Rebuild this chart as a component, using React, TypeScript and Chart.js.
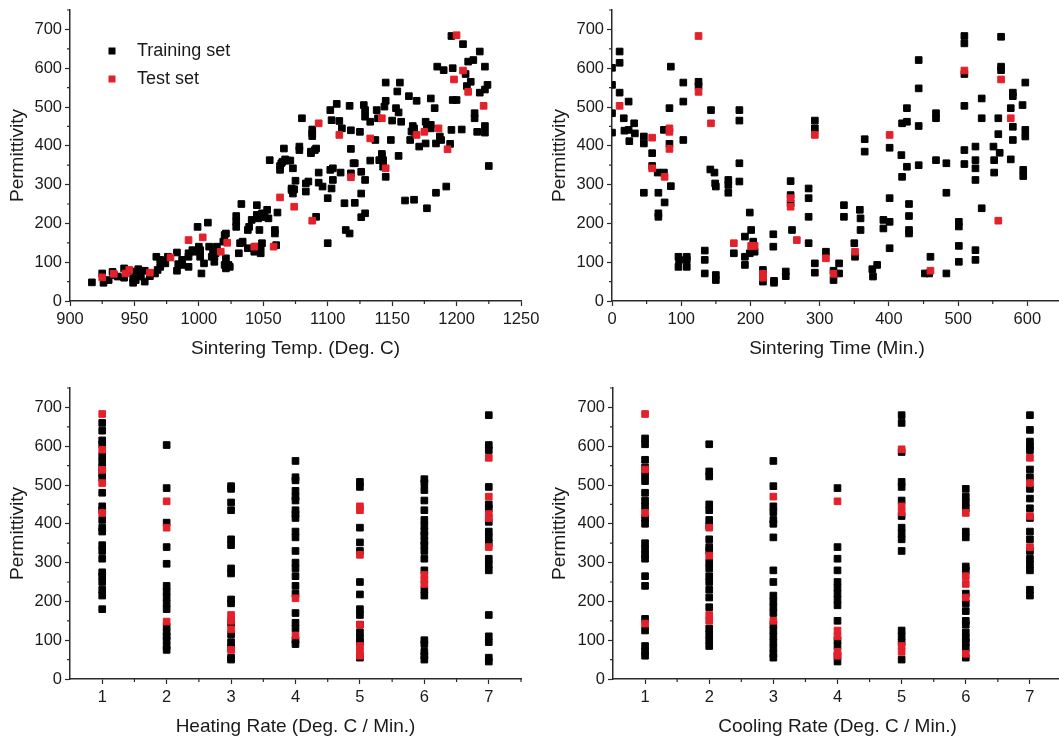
import React, { useEffect, useRef } from 'react';
import { Chart, registerables } from 'chart.js';

Chart.register(...registerables);

// ------------------------- DATA -------------------------
const seriesTrainName = 'Training set';
const seriesTestName = 'Test set';

// Sintering temperature (Deg. C) vs permittivity
const tempTrain: number[][] = [
  [917,48],[925,71],[926,47],[930,54],[933,75],[934,67],[937,63],[942,84],[942,60],[946,78],[949,58],[949,47],[951,76],[951,54],[953,82],[955,63],[958,78],[958,50],[962,64],[966,71],[967,114],[968,80],[970,88],[971,97],[970,106],[973,101],[974,97],[976,114],[983,78],[984,95],[983,125],[987,93],[987,106],[992,88],[992,114],[992,123],[995,131],[996,127],[999,191],[1000,140],[1001,131],[1001,114],[1002,71],[1004,97],[1007,202],[1008,140],[1010,114],[1011,127],[1012,101],[1012,114],[1013,123],[1014,140],[1019,153],[1020,170],[1021,174],[1020,93],[1021,84],[1023,93],[1024,88],[1021,110],[1029,191],[1029,204],[1029,219],[1031,123],[1032,149],[1033,250],[1034,153],[1038,136],[1038,183],[1039,191],[1041,209],[1043,127],[1044,140],[1045,247],[1045,222],[1046,213],[1047,183],[1048,140],[1048,123],[1049,149],[1049,226],[1050,217],[1051,217],[1053,235],[1054,213],[1059,174],[1059,183],[1060,144],[1061,228],[1055,363],[1063,348],[1063,338],[1064,355],[1065,359],[1067,365],[1069,362],[1071,362],[1073,342],[1066,393],[1072,290],[1072,286],[1073,277],[1074,288],[1080,471],[1078,398],[1078,389],[1075,310],[1083,282],[1083,303],[1085,308],[1088,442],[1088,432],[1088,425],[1090,389],[1091,393],[1087,385],[1087,381],[1091,217],[1093,331],[1093,305],[1096,295],[1100,149],[1100,265],[1102,492],[1103,466],[1102,338],[1104,342],[1103,290],[1104,312],[1107,508],[1109,464],[1110,331],[1111,445],[1113,252],[1114,183],[1117,174],[1117,503],[1118,440],[1118,392],[1118,329],[1120,355],[1121,355],[1121,253],[1125,436],[1126,333],[1126,277],[1126,216],[1128,505],[1129,492],[1129,475],[1129,312],[1129,226],[1133,462],[1133,362],[1137,415],[1138,492],[1139,471],[1140,363],[1142,379],[1142,374],[1143,346],[1143,363],[1144,501],[1145,320],[1145,563],[1145,516],[1149,415],[1150,465],[1153,497],[1154,540],[1155,486],[1155,374],[1156,563],[1157,462],[1160,259],[1163,528],[1164,415],[1166,451],[1167,261],[1169,516],[1165,437],[1167,436],[1167,445],[1171,398],[1176,462],[1176,406],[1177,454],[1177,239],[1180,522],[1180,454],[1180,445],[1183,497],[1184,406],[1185,604],[1184,279],[1187,424],[1188,415],[1190,595],[1192,295],[1195,405],[1196,683],[1196,441],[1197,518],[1197,600],[1200,518],[1205,662],[1204,442],[1207,585],[1208,554],[1209,617],[1211,565],[1213,621],[1214,484],[1214,471],[1216,436],[1218,643],[1218,537],[1222,604],[1222,545],[1222,451],[1222,434],[1224,557],[1225,348],
];
const tempTest: number[][] = [
  [925,61],[934,70],[943,71],[946,80],[962,73],[978,112],[992,157],[1003,164],[1017,127],[1022,150],[1043,140],[1058,140],[1063,267],[1074,243],[1088,207],[1093,458],[1109,428],[1118,319],[1133,419],[1142,471],[1145,342],[1169,428],[1175,436],[1186,445],[1193,391],[1198,571],[1200,685],[1205,594],[1209,539],[1221,503],
];

// Sintering time (Min.) vs permittivity
const timeTrain: number[][] = [
  [0,601],[0,557],[0,484],[0,434],[11,643],[11,614],[11,537],[17,471],[18,439],[24,514],[24,441],[25,412],[32,458],[33,432],[46,424],[46,406],[46,279],[58,381],[58,348],[66,331],[67,279],[67,226],[67,217],[75,441],[75,331],[76,254],[83,497],[83,405],[85,296],[85,604],[103,563],[103,514],[103,415],[96,114],[97,106],[96,88],[108,114],[108,106],[108,88],[125,565],[125,554],[134,130],[134,106],[134,71],[143,492],[142,339],[148,331],[149,303],[150,295],[150,67],[150,54],[168,312],[168,299],[168,279],[184,492],[184,465],[184,355],[184,308],[176,123],[192,166],[192,114],[192,93],[199,228],[201,183],[199,123],[204,153],[206,127],[218,80],[218,50],[233,172],[233,140],[234,47],[234,52],[251,76],[251,64],[258,309],[258,273],[258,252],[260,183],[284,290],[284,265],[284,217],[284,149],[293,465],[293,445],[293,97],[293,73],[309,127],[320,78],[320,54],[328,97],[328,71],[335,247],[335,217],[350,149],[351,114],[358,235],[359,213],[359,183],[365,417],[365,385],[376,82],[377,63],[383,93],[392,209],[392,187],[401,395],[401,265],[401,204],[401,136],[419,458],[418,376],[419,320],[426,497],[426,462],[426,346],[429,250],[429,219],[429,183],[429,174],[443,621],[443,548],[443,451],[443,350],[452,71],[458,71],[460,114],[468,484],[468,471],[468,363],[483,355],[483,279],[483,71],[501,204],[501,192],[501,142],[501,101],[509,683],[509,664],[509,585],[509,503],[509,389],[509,353],[525,398],[525,363],[525,342],[525,312],[525,131],[525,106],[534,522],[534,471],[534,239],[551,398],[552,363],[552,331],[558,471],[558,430],[560,382],[562,681],[562,604],[562,595],[576,497],[576,365],[579,537],[579,528],[579,449],[579,415],[593,505],[594,338],[594,322],[597,563],[597,441],[597,424],
];
const timeTest: number[][] = [
  [11,503],[58,421],[58,342],[76,320],[83,445],[83,436],[83,392],[125,683],[125,539],[143,458],[176,149],[201,142],[206,142],[218,70],[218,60],[258,265],[258,243],[267,157],[293,428],[309,110],[320,70],[351,127],[401,428],[460,78],[509,594],[558,207],[562,571],[576,471],
];

// Heating / cooling rate categories (Deg. C / Min.)
const rateCategories = [1, 2, 3, 4, 5, 6, 7];

const heatTrain: number[][] = [
  [660,640,615,605,575,560,545,530,518,480,445,435,410,390,380,345,330,310,275,265,250,230,215,180],
  [603,492,403,340,297,240,225,210,195,180,135,120,110,100,85,75],
  [497,490,455,435,360,345,285,272,205,195,145,115,95,80,55,50],
  [562,520,512,485,470,460,435,425,415,380,365,330,300,285,265,240,220,170,145,130,100,90],
  [508,495,390,352,330,250,218,180,165,140,120,105,95,55],
  [515,505,487,460,435,410,395,380,370,355,345,330,310,280,230,215,100,90,70,60,50],
  [680,603,590,495,450,440,405,380,365,350,310,295,280,165,110,95,55,45],
];
const heatTest: number[][] = [
  [683,591,539,505,428],
  [458,390,148],
  [165,150,128,75],
  [208,112],
  [445,435,320,140,85,70,60],
  [268,255,245],
  [570,470,425,415,340],
];

const coolTrain: number[][] = [
  [620,605,565,545,525,510,480,460,445,415,400,350,335,320,310,265,240,155,125,85,70,60],
  [605,535,522,450,435,410,395,360,340,330,300,285,265,250,230,210,185,130,115,100,85],
  [562,497,445,430,410,400,365,280,250,215,200,185,170,140,125,110,95,80,65,55],
  [492,340,310,280,250,235,220,205,190,150,100,85,60,45],
  [680,660,585,508,495,460,420,390,375,360,330,125,110,95,50],
  [490,470,455,440,380,365,290,280,220,195,175,150,140,120,105,95,80,55],
  [680,642,612,600,590,540,520,490,465,440,415,380,360,330,310,295,280,230,215],
];
const coolTest: number[][] = [
  [683,540,428,143],
  [390,318,165,150],
  [470,150],
  [458,125,110,70,60],
  [592,445,430,85,70],
  [428,265,245,210,65],
  [570,505,420,340],
];

// Tick values
const permTicks = [0, 100, 200, 300, 400, 500, 600, 700];
const permMinor = [50, 150, 250, 350, 450, 550, 650, 750];
const tempTicks = [900, 950, 1000, 1050, 1100, 1150, 1200, 1250];
const tempMinor = [925, 975, 1025, 1075, 1125, 1175, 1225];
const timeTicks = [0, 100, 200, 300, 400, 500, 600];
const timeMinor = [50, 150, 250, 350, 450, 550, 650];
const rateTicks = [1, 2, 3, 4, 5, 6, 7];
const rateMinor = [1.5, 2.5, 3.5, 4.5, 5.5, 6.5, 7.5];

const yTitle = 'Permittivity';
const titleTemp = 'Sintering Temp. (Deg. C)';
const titleTime = 'Sintering Time (Min.)';
const titleHeat = 'Heating Rate (Deg. C / Min.)';
const titleCool = 'Cooling Rate (Deg. C / Min.)';

// ------------------------- STYLE -------------------------
const FONT = "'Liberation Sans', Arial, Helvetica, sans-serif";
const TEXT = '#1a1a1a';
const AXIS = '#2a2a2a';
const BLACK = '#000000';
const RED = '#e3212b';
const MARKER_R = 4.7;

const pairsToPoints = (arr: number[][]) => arr.map(([x, y]) => ({ x, y }));
const catsToPoints = (cats: number[], vals: number[][]) =>
  cats.flatMap((c, i) => vals[i].map((v) => ({ x: c, y: v })));

const minorTickPlugin = {
  id: 'minorTicks',
  afterDraw(chart: any, _args: any, opts: any) {
    const ctx = chart.ctx;
    const xs = chart.scales.x;
    const ys = chart.scales.y;
    ctx.save();
    ctx.strokeStyle = AXIS;
    ctx.lineWidth = 1.2;
    ctx.beginPath();
    (opts.x || []).forEach((v: number) => {
      const px = xs.getPixelForValue(v);
      ctx.moveTo(px, xs.top);
      ctx.lineTo(px, xs.top + opts.length);
    });
    (opts.y || []).forEach((v: number) => {
      const py = ys.getPixelForValue(v);
      ctx.moveTo(ys.right, py);
      ctx.lineTo(ys.right - opts.length, py);
    });
    ctx.stroke();
    ctx.restore();
  },
};

const insideLegendPlugin = {
  id: 'insideLegend',
  afterDraw(chart: any, _args: any, opts: any) {
    if (!opts || !opts.display) return;
    const ctx = chart.ctx;
    ctx.save();
    ctx.font = `${opts.fontSize}px ${FONT}`;
    ctx.textBaseline = 'middle';
    ctx.textAlign = 'left';
    const order: string[] = opts.order;
    order.forEach((label, i) => {
      const ds = chart.data.datasets.find((d: any) => d.label === label);
      if (!ds) return;
      const cy = opts.y + i * opts.rowGap;
      const s = opts.markerSize;
      ctx.fillStyle = ds.backgroundColor;
      ctx.fillRect(opts.x - s / 2, cy - s / 2, s, s);
      ctx.fillStyle = TEXT;
      ctx.fillText(label, opts.textX, cy);
    });
    ctx.restore();
  },
};

type Spec = {
  left: number; top: number; w: number; h: number;
  train: { x: number; y: number }[];
  test: { x: number; y: number }[];
  xMin: number; xMax: number; xTicks: number[]; xMinor: number[]; xTitle: string;
  yAxisWidth: number; xAxisHeight: number;
  padTop: number; padRight: number;
  yTitlePad: number; xTitlePad: number;
  legend: boolean;
};

function makeConfig(s: Spec): any {
  const tickFont = { family: FONT, size: 16.5 };
  const titleFont = { family: FONT, size: 19, lineHeight: 1.2 };
  const grid = {
    display: true, drawOnChartArea: false, drawTicks: true,
    tickLength: 5, tickColor: AXIS, tickWidth: 1.2,
  };
  const border = { display: true, color: AXIS, width: 1.5 };
  return {
    type: 'scatter',
    data: {
      datasets: [
        {
          label: seriesTestName, data: s.test, order: 0,
          backgroundColor: RED, borderColor: RED, borderWidth: 1,
          pointStyle: 'rect', pointRadius: MARKER_R, pointHoverRadius: MARKER_R,
        },
        {
          label: seriesTrainName, data: s.train, order: 1,
          backgroundColor: BLACK, borderColor: BLACK, borderWidth: 1,
          pointStyle: 'rect', pointRadius: MARKER_R, pointHoverRadius: MARKER_R,
        },
      ],
    },
    options: {
      responsive: false,
      maintainAspectRatio: false,
      animation: false,
      devicePixelRatio: 1,
      events: [],
      layout: { padding: { top: s.padTop, right: s.padRight, left: 0, bottom: 0 } },
      plugins: {
        legend: { display: false },
        tooltip: { enabled: false },
        minorTicks: { x: s.xMinor, y: permMinor, length: 3 },
        insideLegend: {
          display: s.legend, order: [seriesTrainName, seriesTestName],
          x: 112, y: 51, rowGap: 28, textX: 137, fontSize: 18, markerSize: 7,
        },
      },
      scales: {
        x: {
          type: 'linear', position: 'bottom', min: s.xMin, max: s.xMax,
          afterBuildTicks: (sc: any) => { sc.ticks = s.xTicks.map((v) => ({ value: v })); },
          afterFit: (sc: any) => { sc.height = s.xAxisHeight; sc.paddingLeft = 0; sc.paddingRight = 0; },
          ticks: {
            callback: (v: any) => String(v), font: tickFont, color: TEXT,
            padding: 4, maxRotation: 0, minRotation: 0, autoSkip: false,
          },
          grid, border,
          title: {
            display: true, text: s.xTitle, font: titleFont, color: TEXT,
            padding: { top: 0, bottom: s.xTitlePad },
          },
        },
        y: {
          type: 'linear', position: 'left', min: 0, max: 750,
          afterBuildTicks: (sc: any) => { sc.ticks = permTicks.map((v) => ({ value: v })); },
          afterFit: (sc: any) => { sc.width = s.yAxisWidth; sc.paddingTop = 0; sc.paddingBottom = 0; },
          ticks: {
            callback: (v: any) => String(v), font: tickFont, color: TEXT,
            padding: 3, autoSkip: false,
          },
          grid, border,
          title: {
            display: true, text: yTitle, font: titleFont, color: TEXT,
            padding: { top: s.yTitlePad, bottom: 0 },
          },
        },
      },
    },
    plugins: [minorTickPlugin, insideLegendPlugin],
  };
}

function Panel({ spec }: { spec: Spec }) {
  const ref = useRef<HTMLCanvasElement>(null);
  useEffect(() => {
    const chart = new Chart(ref.current as HTMLCanvasElement, makeConfig(spec));
    return () => chart.destroy();
  }, [spec]);
  return (
    <canvas
      ref={ref}
      width={spec.w}
      height={spec.h}
      style={{ position: 'absolute', left: spec.left, top: spec.top, width: spec.w, height: spec.h }}
    />
  );
}

const specs: Spec[] = [
  {
    left: 0, top: 0, w: 560, h: 370,
    train: pairsToPoints(tempTrain), test: pairsToPoints(tempTest),
    xMin: 900, xMax: 1250, xTicks: tempTicks, xMinor: tempMinor, xTitle: titleTemp,
    yAxisWidth: 70, xAxisHeight: 69, padTop: 10, padRight: 39,
    yTitlePad: 6.6, xTitlePad: 9.6, legend: true,
  },
  {
    left: 530, top: 0, w: 540, h: 370,
    train: pairsToPoints(timeTrain), test: pairsToPoints(timeTest),
    xMin: 0, xMax: 650, xTicks: timeTicks, xMinor: timeMinor, xTitle: titleTime,
    yAxisWidth: 82, xAxisHeight: 69, padTop: 10, padRight: 8,
    yTitlePad: 18.6, xTitlePad: 9.6, legend: false,
  },
  {
    left: 0, top: 370, w: 560, h: 370,
    train: catsToPoints(rateCategories, heatTrain), test: catsToPoints(rateCategories, heatTest),
    xMin: 0.5, xMax: 7.5, xTicks: rateTicks, xMinor: rateMinor, xTitle: titleHeat,
    yAxisWidth: 70, xAxisHeight: 61, padTop: 18, padRight: 39,
    yTitlePad: 6.6, xTitlePad: 1.6, legend: false,
  },
  {
    left: 530, top: 370, w: 540, h: 370,
    train: catsToPoints(rateCategories, coolTrain), test: catsToPoints(rateCategories, coolTest),
    xMin: 0.5, xMax: 7.5, xTicks: rateTicks, xMinor: rateMinor, xTitle: titleCool,
    yAxisWidth: 83, xAxisHeight: 61, padTop: 18, padRight: 8,
    yTitlePad: 18.6, xTitlePad: 1.6, legend: false,
  },
];

export default function App() {
  return (
    <div
      style={{
        position: 'fixed', left: 0, top: 0, width: 1059, height: 740,
        overflow: 'hidden', background: '#ffffff',
      }}
    >
      {specs.map((s, i) => (
        <Panel key={i} spec={s} />
      ))}
    </div>
  );
}
